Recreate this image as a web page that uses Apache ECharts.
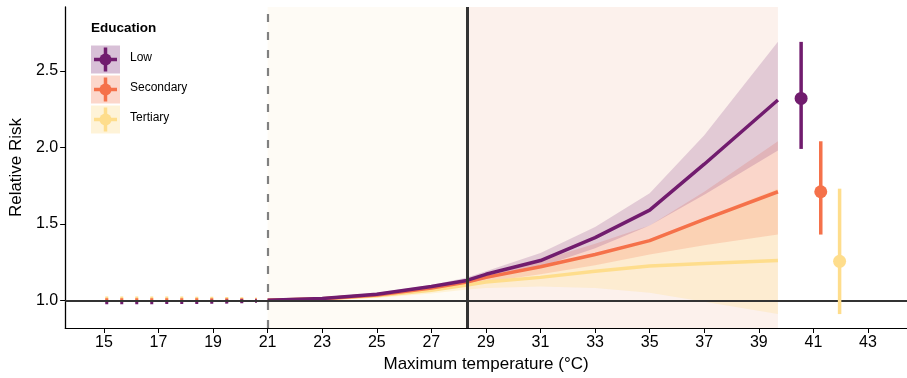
<!DOCTYPE html>
<html>
<head>
<meta charset="utf-8">
<script src="https://cdn.jsdelivr.net/npm/echarts@6/dist/echarts.min.js"></script>
<style>
  html, body { margin: 0; padding: 0; background: #fff; }
  #chart { width: 907px; height: 378px; }
</style>
</head>
<body>
<div id="chart"></div>
<script>
// temperatures above the MMT where the curves are read
const xTemp = [21, 23, 25, 27, 28.3, 29, 31, 33, 35, 37, 39.7];
const lowRR = [1.00, 1.012, 1.04, 1.09, 1.13, 1.17, 1.26, 1.41, 1.59, 1.89, 2.31];
const lowLo = [1.00, 1.005, 1.03, 1.07, 1.11, 1.14, 1.22, 1.34, 1.49, 1.69, 1.98];
const lowHi = [1.00, 1.02, 1.05, 1.10, 1.15, 1.19, 1.31, 1.48, 1.70, 2.08, 2.69];
const secRR = [1.00, 1.01, 1.035, 1.08, 1.12, 1.15, 1.22, 1.30, 1.39, 1.53, 1.71];
const secLo = [1.00, 1.005, 1.025, 1.065, 1.10, 1.12, 1.17, 1.23, 1.30, 1.36, 1.43];
const secHi = [1.00, 1.015, 1.045, 1.095, 1.14, 1.17, 1.26, 1.37, 1.49, 1.71, 2.04];
const terRR = [1.00, 1.008, 1.03, 1.065, 1.10, 1.12, 1.15, 1.19, 1.225, 1.24, 1.26];
const terLo = [1.00, 1.0, 1.015, 1.045, 1.07, 1.08, 1.09, 1.08, 1.05, 0.99, 0.91];
const terHi = [1.00, 1.02, 1.045, 1.09, 1.13, 1.155, 1.22, 1.30, 1.40, 1.54, 1.73];

// cold side, drawn dotted
const xCold = [15.05, 17, 19, 20.6];
const lowCold = [0.988, 0.988, 0.99, 0.995];
const secCold = [1.0, 1.0, 1.0, 1.0];
const terCold = [1.012, 1.012, 1.01, 1.005];

// pooled estimates at the right
const ptX = [40.55, 41.27, 41.96];
const ptRR = [2.32, 1.71, 1.255];
const ptLo = [1.99, 1.43, 0.91];
const ptHi = [2.69, 2.04, 1.73];

const xTicks = [15, 17, 19, 21, 23, 25, 27, 29, 31, 33, 35, 37, 39, 41, 43];
const yTicks = [1.0, 1.5, 2.0, 2.5];

const mmt = 21.0, p975 = 28.3, xEnd = 39.7;
const colors = ['#711c6e', '#f5714a', '#fedd8c'];
const bandColors = ['rgba(113,28,110,0.18)', 'rgba(245,113,74,0.21)', 'rgba(254,221,140,0.28)'];
const names = ['Low', 'Secondary', 'Tertiary'];
const font = '"Liberation Sans", Arial, sans-serif';

function zip(xs, ys) { return xs.map((x, i) => [x, ys[i]]); }

function band(lo, hi, color) {
  return {
    type: 'custom', silent: true, z: 2,
    data: zip(xTemp, lo),
    renderItem: function (params, api) {
      if (params.dataIndex !== 0) return null;
      const top = xTemp.map((x, i) => api.coord([x, hi[i]]));
      const bot = xTemp.map((x, i) => api.coord([x, lo[i]])).reverse();
      return { type: 'polygon', shape: { points: top.concat(bot) }, style: { fill: color } };
    }
  };
}

function curve(rr, color) {
  return {
    type: 'line', data: zip(xTemp, rr), showSymbol: false, smooth: false, z: 3,
    lineStyle: { color: color, width: 3.5 }, silent: true
  };
}

function dotted(vals, color) {
  return {
    type: 'line', data: zip(xCold, vals), showSymbol: false, z: 3, silent: true,
    lineStyle: { color: color, width: 4, type: [3, 12], cap: 'butt' }
  };
}

const series = [
  {
    type: 'line', data: [], z: 0, silent: true,
    markArea: {
      silent: true,
      data: [
        [{ xAxis: mmt, itemStyle: { color: '#fefbf5' } }, { xAxis: p975 }],
        [{ xAxis: p975, itemStyle: { color: '#fcf1ec' } }, { xAxis: xEnd }]
      ]
    }
  },
  band(terLo, terHi, bandColors[2]),
  band(secLo, secHi, bandColors[1]),
  band(lowLo, lowHi, bandColors[0]),
  curve(terRR, colors[2]),
  curve(secRR, colors[1]),
  curve(lowRR, colors[0]),
  dotted(terCold, colors[2]),
  dotted(secCold, colors[1]),
  dotted(lowCold, colors[0]),
  {
    type: 'line', data: [], z: 5, silent: true,
    markLine: {
      silent: true, symbol: 'none', label: { show: false }, animation: false,
      data: [
        { yAxis: 1.0, lineStyle: { color: '#333', width: 2, type: 'solid' } },
        { xAxis: mmt, lineStyle: { color: '#808080', width: 2.2, type: [8, 10] } },
        { xAxis: p975, lineStyle: { color: '#333', width: 3, type: 'solid' } }
      ]
    }
  },
  {
    type: 'custom', z: 6, silent: true,
    data: ptX.map((x, i) => [x, ptLo[i], ptHi[i], i]),
    renderItem: function (params, api) {
      const a = api.coord([api.value(0), api.value(1)]);
      const b = api.coord([api.value(0), api.value(2)]);
      return {
        type: 'line', shape: { x1: a[0], y1: a[1], x2: b[0], y2: b[1] },
        style: { stroke: colors[api.value(3)], lineWidth: 3.5 }
      };
    }
  },
  {
    type: 'scatter', z: 7, silent: true, symbolSize: 13,
    data: ptX.map((x, i) => ({ value: [x, ptRR[i]], itemStyle: { color: colors[i], opacity: 1 } }))
  }
];

// legend drawn as graphics
const legendBg = ['#d8c0d7', '#fcd7cb', '#fef3d8'];
const legend = [{
  type: 'text', left: 91, top: 21,
  style: { text: 'Education', font: 'bold 13.5px ' + font, fill: '#000' }
}];
names.forEach((n, i) => {
  const y0 = 45 + i * 30;
  legend.push({
    type: 'group', left: 91, top: y0,
    children: [
      { type: 'rect', shape: { x: 0, y: 0, width: 29, height: 28 }, style: { fill: legendBg[i] } },
      { type: 'line', shape: { x1: 3, y1: 14, x2: 26, y2: 14 }, style: { stroke: colors[i], lineWidth: 3.5 } },
      { type: 'line', shape: { x1: 14.5, y1: 2, x2: 14.5, y2: 26 }, style: { stroke: colors[i], lineWidth: 3.5 } },
      { type: 'circle', shape: { cx: 14.5, cy: 14, r: 6 }, style: { fill: colors[i] } }
    ]
  });
  legend.push({
    type: 'text', left: 130, top: y0 + 7,
    style: { text: n, font: '12px ' + font, fill: '#000' }
  });
});

const notes = [
  { type: 'text', left: 272, top: 205, style: { text: 'MMT\n21.0°C', font: '12.5px ' + font, fill: '#777', lineHeight: 18 } },
  { type: 'text', left: 471, top: 52, style: { text: '97.5th pct\n28.3°C', font: '12.5px ' + font, fill: '#333', lineHeight: 18 } }
];

const chart = echarts.init(document.getElementById('chart'));
chart.setOption({
  animation: false,
  backgroundColor: '#fff',
  textStyle: { fontFamily: font },
  grid: { left: 64, right: 0, top: 7, bottom: 50 },
  xAxis: {
    type: 'value', min: 13.58, max: 44.43,
    name: 'Maximum temperature (°C)', nameLocation: 'middle', nameGap: 28,
    nameTextStyle: { fontSize: 17, color: '#000', fontFamily: font },
    axisLine: { show: true, lineStyle: { color: '#000', width: 1 } },
    axisTick: { show: true, customValues: xTicks, length: 5, lineStyle: { color: '#000' } },
    axisLabel: { customValues: xTicks, fontSize: 16, color: '#000', margin: 7, fontFamily: font },
    splitLine: { show: false }
  },
  yAxis: {
    type: 'value', min: 0.819, max: 2.918,
    name: 'Relative Risk', nameLocation: 'middle', nameGap: 34,
    nameTextStyle: { fontSize: 17, color: '#000', fontFamily: font },
    axisLine: { show: true, lineStyle: { color: '#000', width: 1.3 } },
    axisTick: { show: true, customValues: yTicks, length: 5, lineStyle: { color: '#000' } },
    axisLabel: {
      customValues: yTicks, fontSize: 16, color: '#000', margin: 7, fontFamily: font,
      formatter: v => v.toFixed(1)
    },
    splitLine: { show: false }
  },
  series: series,
  graphic: legend.concat(notes)
});
</script>
</body>
</html>
